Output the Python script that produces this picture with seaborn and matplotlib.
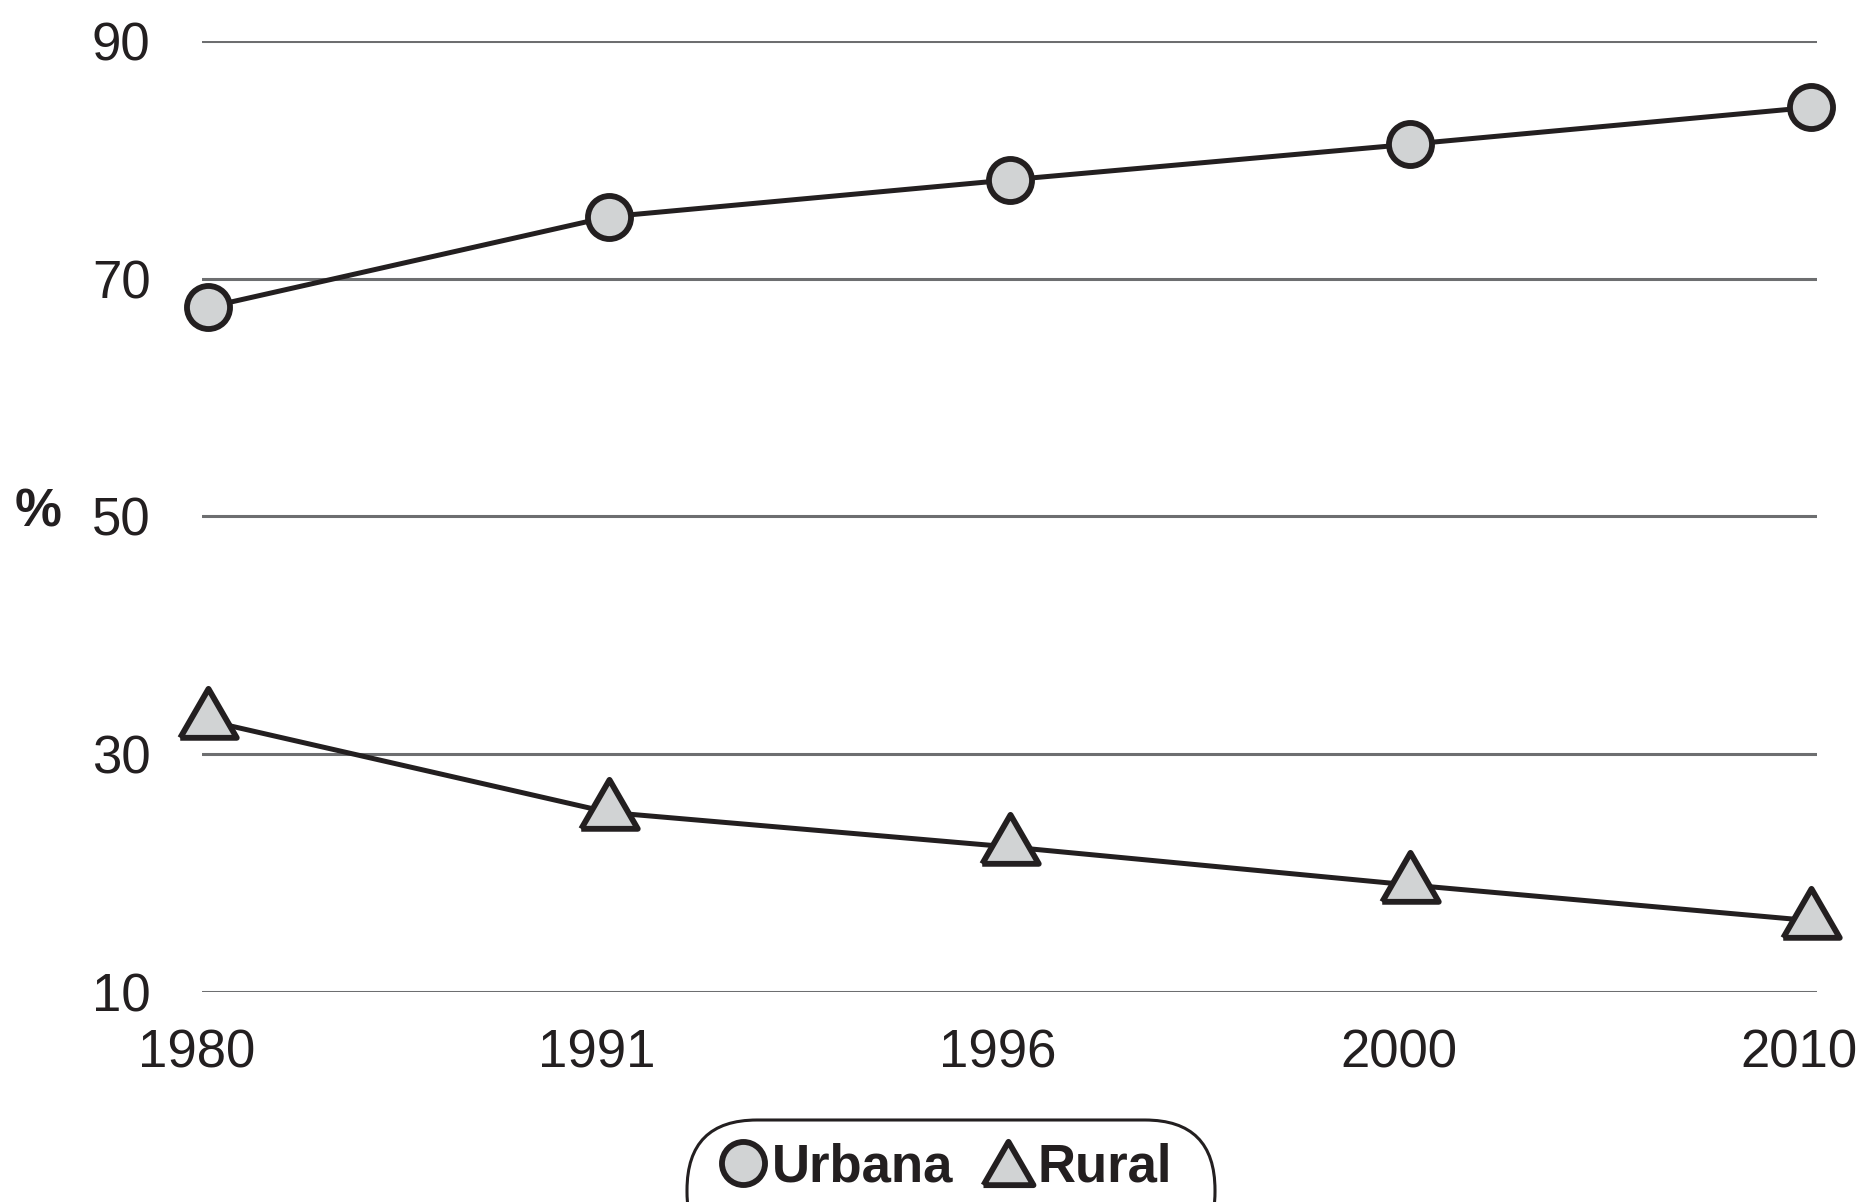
import numpy as np
import pandas as pd
import matplotlib.pyplot as plt
import matplotlib.transforms as mtransforms
import seaborn as sns
from matplotlib.lines import Line2D
from matplotlib.patches import FancyBboxPatch

# --- data --- #
years = ['1980', '1991', '1996', '2000', '2010']
urbana = [67.6, 75.2, 78.3, 81.3, 84.4]
rural = [32.8, 25.1, 22.2, 19.0, 16.0]
y_ticks = [10, 30, 50, 70, 90]

pos = np.arange(len(years))
df = pd.DataFrame({
    'pos': np.concatenate([pos, pos]),
    'valor': urbana + rural,
    'serie': ['Urbana'] * len(years) + ['Rural'] * len(years),
})

sns.set_theme(style='white')
plt.rcParams['font.family'] = ['Liberation Sans', 'DejaVu Sans']

ink = '#231f20'
fill = '#d1d3d4'
# equilateral triangle centred on its centroid (plot) / on its box (legend)
tri = [(-1, -0.5774), (1, -0.5774), (0, 1.1547), (-1, -0.5774)]
tri_leg = [(-1, -0.866), (1, -0.866), (0, 0.866), (-1, -0.866)]

fig = plt.figure(figsize=(18.58, 12.02), dpi=100)
ax = fig.add_axes([0.1087, 0.1747, 0.8693, 0.7914])

sns.lineplot(data=df, x='pos', y='valor', style='serie', hue='serie',
             palette={'Urbana': ink, 'Rural': ink},
             markers={'Urbana': 'o', 'Rural': tri}, dashes=False,
             linewidth=3.6, markersize=31, markerfacecolor=fill,
             markeredgecolor=ink, markeredgewidth=4.2,
             legend=False, ax=ax, zorder=3)
for ln in ax.lines:
    ln.set_clip_on(False)
    if ln.get_marker() != 'o':
        ln.set_markersize(47)

ax.set_ylim(10, 90)
ax.set_xlim(-0.016, 4.015)
ax.set_yticks(y_ticks)
ax.set_xticks(pos)
ax.set_xticklabels(years)
ax.yaxis.grid(True, color='#6d6e70', linewidth=2.2)
ax.set_axisbelow(True)
for s in ax.spines.values():
    s.set_visible(False)
ax.tick_params(axis='y', length=0, pad=37, labelsize=38, labelcolor=ink)
ax.tick_params(axis='x', length=0, pad=26, labelsize=38, labelcolor=ink)
ax.set_xlabel('')
ax.set_ylabel('')

# year labels sit a little left of the markers
shift = mtransforms.ScaledTranslation(-0.12, 0, fig.dpi_scale_trans)
for lbl in ax.get_xticklabels():
    lbl.set_transform(lbl.get_transform() + shift)

fig.text(38 / 1858, 1 - 512 / 1202, '%', fontsize=38, fontweight='bold',
         color=ink, ha='center', va='center')

handles = [
    Line2D([], [], linestyle='none', marker='o', markersize=31,
           markerfacecolor=fill, markeredgecolor=ink, markeredgewidth=4.2),
    Line2D([], [], linestyle='none', marker=tri_leg, markersize=36,
           markerfacecolor=fill, markeredgecolor=ink, markeredgewidth=4.2),
]
leg = fig.legend(handles, ['Urbana', 'Rural'], loc='center',
                 bbox_to_anchor=(944 / 1858, 1 - 1167 / 1202), ncol=2,
                 frameon=False, handlelength=1.0, handletextpad=0.05,
                 columnspacing=0.55, borderpad=0.5,
                 prop={'weight': 'bold', 'size': 38})
for t in leg.get_texts():
    t.set_color(ink)

# pill-shaped legend box, cut by the bottom edge
box = FancyBboxPatch((6.87, -0.6), 5.28, 1.42,
                     boxstyle='round,pad=0,rounding_size=0.7',
                     transform=fig.dpi_scale_trans, facecolor='none',
                     edgecolor=ink, linewidth=2.2)
fig.patches.append(box)

fig.savefig('out.png', dpi=100)
